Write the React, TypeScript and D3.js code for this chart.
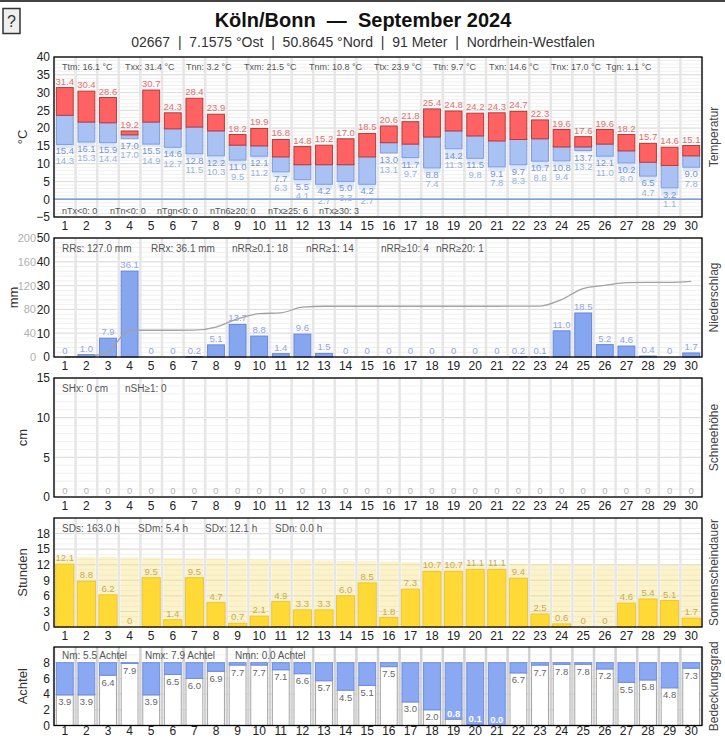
import React, { useEffect, useRef } from 'react';
import * as d3 from 'd3';

const days = [1, 2, 3, 4, 5, 6, 7, 8, 9, 10, 11, 12, 13, 14, 15, 16, 17, 18, 19, 20, 21, 22, 23, 24, 25, 26, 27, 28, 29, 30];

// temperature (°C)
const tMax = [31.4, 30.4, 28.6, 19.2, 30.7, 24.3, 28.4, 23.9, 18.2, 19.9, 16.8, 14.8, 15.2, 17.0, 18.5, 20.6, 21.8, 25.4, 24.8, 24.2, 24.3, 24.7, 22.3, 19.6, 17.6, 19.6, 18.2, 15.7, 14.6, 15.1];
const tMean = [23.6, 21.7, 21.5, 18.1, 21.7, 19.8, 20.3, 19.2, 15.2, 15.0, 11.9, 9.7, 9.7, 9.7, 11.9, 15.9, 15.5, 17.5, 19.2, 17.8, 16.4, 16.8, 17.0, 14.7, 14.7, 15.5, 13.6, 10.4, 9.5, 12.2];
const tMin = [15.4, 16.1, 15.9, 17.0, 15.5, 14.6, 12.8, 12.2, 11.0, 12.1, 7.7, 5.5, 4.2, 5.0, 4.2, 13.0, 11.7, 8.8, 14.2, 11.5, 9.1, 9.7, 10.7, 10.8, 13.7, 12.1, 10.2, 6.5, 3.2, 9.0];
const tGround = [14.3, 15.3, 14.4, 17.0, 14.9, 12.7, 11.5, 10.3, 9.5, 11.2, 6.3, 4.1, 2.7, 3.3, 2.7, 13.1, 9.7, 7.4, 11.3, 9.8, 7.8, 8.3, 8.8, 9.4, 13.2, 11.0, 8.0, 4.7, 1.1, 7.8];

// precipitation (mm)
const precip = [0, 1.0, 7.9, 36.1, 0, 0, 0.2, 5.1, 13.7, 8.8, 1.4, 9.6, 1.5, 0, 0, 0, 0, 0, 0, 0, 0, 0.2, 0.1, 11.0, 18.5, 5.2, 4.6, 0.4, 0, 1.7];

// snow depth (cm)
const snow = [0, 0, 0, 0, 0, 0, 0, 0, 0, 0, 0, 0, 0, 0, 0, 0, 0, 0, 0, 0, 0, 0, 0, 0, 0, 0, 0, 0, 0, 0];

// sunshine (h) and possible sunshine
const sunshine = [12.1, 8.8, 6.2, 0, 9.5, 1.4, 9.5, 4.7, 0.7, 2.1, 4.9, 3.3, 3.3, 6.0, 8.5, 1.8, 7.3, 10.7, 10.7, 11.1, 11.1, 9.4, 2.5, 0.6, 0, 0, 4.6, 5.4, 5.1, 1.7];
const sunPossible = [13.6, 13.5, 13.5, 13.4, 13.4, 13.3, 13.2, 13.2, 13.0, 13.0, 12.9, 12.9, 12.8, 12.7, 12.7, 12.6, 12.5, 12.4, 12.3, 12.3, 12.2, 12.2, 12.1, 12.1, 12.1, 12.0, 12.0, 12.0, 12.0, 12.0];

// cloud cover (eighths)
const cloud = [3.9, 3.9, 6.4, 7.9, 3.9, 6.5, 6.0, 6.9, 7.7, 7.7, 7.1, 6.6, 5.7, 4.5, 5.1, 7.5, 3.0, 2.0, 0.8, 0.1, 0.0, 6.7, 7.7, 7.8, 7.8, 7.2, 5.5, 5.8, 4.8, 7.3];

const tempStatsTop = ['Ttm: 16.1 °C', 'Txx: 31.4 °C', 'Tnn: 3.2 °C', 'Txm: 21.5 °C', 'Tnm: 10.8 °C', 'Ttx: 23.9 °C', 'Ttn: 9.7 °C', 'Txn: 14.6 °C', 'Tnx: 17.0 °C', 'Tgn: 1.1 °C'];
const tempStatsBottom = ['nTx<0: 0', 'nTn<0: 0', 'nTgn<0: 0', 'nTn6≥20: 0', 'nTx≥25: 6', 'nTx≥30: 3'];
const precipStats = ['RRs: 127.0 mm', 'RRx: 36.1 mm', 'nRR≥0.1: 18', 'nRR≥1: 14', 'nRR≥10: 4', 'nRR≥20: 1'];
const snowStats = ['SHx: 0 cm', 'nSH≥1: 0'];
const sunStats = ['SDs: 163.0 h', 'SDm: 5.4 h', 'SDx: 12.1 h', 'SDn: 0.0 h'];
const cloudStats = ['Nm: 5.5 Achtel', 'Nmx: 7.9 Achtel', 'Nmn: 0.0 Achtel'];

const W = 725;
const H = 739;
const L = 54;
const R = 702;
const FONT = '"Liberation Sans", Arial, Helvetica, sans-serif';
const fmt = (v: number) => (v === 0 ? '0' : v.toFixed(1));

export default function App() {
  const ref = useRef<SVGSVGElement>(null);

  useEffect(() => {
    document.body.style.margin = '0';
    const svg = d3.select(ref.current);
    svg.selectAll('*').remove();
    svg.style('font-family', FONT);

    const x = d3.scaleBand<number>().domain(days).range([L, R]).paddingInner(0.22).paddingOuter(0.11);
    const cx = (d: number) => (x(d) as number) + x.bandwidth() / 2;
    const bounds = d3.range(0, days.length + 1).map(i => L + i * x.step());

    // header
    svg.append('rect').attr('x', 0).attr('y', 0).attr('width', W).attr('height', 2).attr('fill', '#444');
    svg.append('rect').attr('x', 3).attr('y', 8.5).attr('width', 17).attr('height', 25)
      .attr('fill', '#efefef').attr('stroke', '#333').attr('stroke-width', 1.5);
    svg.append('text').attr('x', 11.5).attr('y', 27).attr('text-anchor', 'middle')
      .attr('font-size', 16).attr('fill', '#333').text('?');
    svg.append('text').attr('x', 363).attr('y', 27).attr('text-anchor', 'middle')
      .attr('font-size', 20).attr('font-weight', 'bold').attr('fill', '#111')
      .text('Köln/Bonn\u00a0\u00a0—\u00a0\u00a0September 2024');
    svg.append('text').attr('x', 363).attr('y', 47).attr('text-anchor', 'middle')
      .attr('font-size', 14).attr('fill', '#333')
      .text('02667\u00a0\u00a0|\u00a0\u00a07.1575 °Ost\u00a0\u00a0|\u00a0\u00a050.8645 °Nord\u00a0\u00a0|\u00a0\u00a091 Meter\u00a0\u00a0|\u00a0\u00a0Nordrhein-Westfalen');

    const panel = (top: number, bottom: number, domain: [number, number], major: number[], minor: number,
      leftTitle: string, rightTitle: string, leftTitleX = 22, vertColor = '#e6e6e6', dayPad = 4.5) => {
      const y = d3.scaleLinear().domain(domain).range([bottom, top]);
      const g = svg.append('g');
      const grid = g.append('g');
      grid.selectAll('line.minor').data(d3.range(domain[0], domain[1] + 1e-6, minor)).join('line')
        .attr('x1', L).attr('x2', R).attr('y1', d => y(d)).attr('y2', d => y(d))
        .attr('stroke', '#f0f0f0').attr('stroke-width', 1);
      grid.selectAll('line.major').data(major).join('line')
        .attr('x1', L).attr('x2', R).attr('y1', d => y(d)).attr('y2', d => y(d))
        .attr('stroke', '#dcdcdc').attr('stroke-width', 1);
      grid.selectAll('line.vert').data(bounds).join('line')
        .attr('x1', d => d).attr('x2', d => d).attr('y1', top).attr('y2', bottom)
        .attr('stroke', vertColor).attr('stroke-width', 2.5);
      const marks = g.append('g');
      const over = g.append('g');

      const ya = g.append('g').attr('transform', `translate(${L},0)`)
        .call(d3.axisLeft(y).tickValues(major).tickSize(0).tickPadding(4).tickFormat(d3.format('d')));
      ya.select('.domain').remove();
      ya.selectAll('text').attr('font-size', 12).attr('fill', '#222').attr('font-family', FONT);

      const xa = g.append('g').attr('transform', `translate(0,${bottom})`)
        .call(d3.axisBottom(x).tickSize(0).tickPadding(dayPad));
      xa.select('.domain').remove();
      xa.selectAll('text').attr('font-size', 12).attr('fill', '#222').attr('font-family', FONT);

      const mid = (top + bottom) / 2;
      g.append('text').attr('transform', `translate(${leftTitleX},${mid}) rotate(-90)`)
        .attr('text-anchor', 'middle').attr('dy', '0.35em').attr('font-size', 13).attr('fill', '#333').text(leftTitle);
      g.append('text').attr('transform', `translate(714,${mid}) rotate(-90)`)
        .attr('text-anchor', 'middle').attr('dy', '0.35em').attr('font-size', 12).attr('fill', '#444').text(rightTitle);

      const finish = () => {
        over.append('rect').attr('x', L).attr('y', top).attr('width', R - L).attr('height', bottom - top)
          .attr('fill', 'none').attr('stroke', '#000').attr('stroke-width', 1.3);
      };
      return { y, marks, over, finish };
    };

    const stats = (g: any, items: string[], xs: number[], yBase: number, size: number) => {
      g.selectAll(null).data(items).join('text')
        .attr('x', (_: string, i: number) => xs[i]).attr('y', yBase)
        .attr('font-size', size).attr('fill', '#555').text((d: string) => d);
    };

    // ---------- temperature ----------
    {
      const p = panel(57, 217, [-5, 40], [-5, 0, 5, 10, 15, 20, 25, 30, 35, 40], 1, '°C', 'Temperatur');
      const bw = x.bandwidth();
      p.marks.selectAll('rect.g').data(days.filter((_, i) => tGround[i] < tMin[i])).join('rect')
        .attr('x', d => x(d) as number).attr('width', bw)
        .attr('y', d => p.y(tMin[d - 1])).attr('height', d => p.y(tGround[d - 1]) - p.y(tMin[d - 1]))
        .attr('fill', '#dce6fa');
      p.marks.selectAll('rect.b').data(days).join('rect')
        .attr('x', d => x(d) as number).attr('width', bw)
        .attr('y', d => p.y(tMean[d - 1])).attr('height', d => p.y(tMin[d - 1]) - p.y(tMean[d - 1]))
        .attr('fill', '#a9c1f3').attr('stroke', '#7f9de0').attr('stroke-width', 1);
      p.marks.selectAll('rect.r').data(days).join('rect')
        .attr('x', d => x(d) as number).attr('width', bw)
        .attr('y', d => p.y(tMax[d - 1])).attr('height', d => p.y(tMean[d - 1]) - p.y(tMax[d - 1]))
        .attr('fill', '#ff6262').attr('stroke', '#b83a3a').attr('stroke-width', 1);
      p.marks.append('line').attr('x1', L).attr('x2', R).attr('y1', p.y(0)).attr('y2', p.y(0))
        .attr('stroke', '#5f8ad8').attr('stroke-width', 1.2);
      const lab = p.marks.append('g').attr('font-size', 9.5).attr('text-anchor', 'middle');
      lab.selectAll('text.x').data(days).join('text').attr('x', cx).attr('y', d => p.y(tMax[d - 1]) - 3)
        .attr('fill', '#de7070').text(d => fmt(tMax[d - 1]));
      lab.selectAll('text.n').data(days).join('text').attr('x', cx).attr('y', d => p.y(tMin[d - 1]) + 10)
        .attr('fill', '#7594d6').text(d => fmt(tMin[d - 1]));
      lab.selectAll('text.gr').data(days).join('text').attr('x', cx).attr('y', d => p.y(tMin[d - 1]) + 19.5)
        .attr('fill', '#99b3dc').text(d => fmt(tGround[d - 1]));
      stats(p.over, tempStatsTop, [62, 125, 186, 244, 309, 374, 433, 489, 551, 606], 70, 9);
      stats(p.over, tempStatsBottom, [62, 110, 157, 210, 268, 319], 214, 9);
      p.finish();
    }

    // ---------- precipitation ----------
    {
      const p = panel(238, 357, [0, 50], [0, 10, 20, 30, 40, 50], 2, 'mm', 'Niederschlag', 13);
      const y2 = d3.scaleLinear().domain([0, 200]).range([357, 238]);
      const a2 = svg.append('g').attr('transform', `translate(39,0)`)
        .call(d3.axisLeft(y2).tickValues([0, 40, 80, 120, 160, 200]).tickSize(0).tickPadding(3));
      a2.select('.domain').remove();
      a2.selectAll('text').attr('font-size', 11).attr('fill', '#b0b0b0').attr('font-family', FONT);

      p.marks.selectAll('rect').data(days.filter((_, i) => precip[i] > 0)).join('rect')
        .attr('x', d => x(d) as number).attr('width', x.bandwidth())
        .attr('y', d => p.y(precip[d - 1])).attr('height', d => p.y(0) - p.y(precip[d - 1]))
        .attr('fill', '#87a6f0').attr('stroke', '#6686dc').attr('stroke-width', 1);
      const cum = Array.from(d3.cumsum(precip));
      const line = d3.line<number>().x(d => cx(d)).y(d => y2(cum[d - 1])).curve(d3.curveMonotoneX);
      p.marks.append('path').datum(days).attr('d', line).attr('fill', 'none')
        .attr('stroke', '#a2a2a2').attr('stroke-width', 1.3);
      p.marks.append('g').attr('font-size', 9.5).attr('text-anchor', 'middle').attr('fill', '#91a4e6')
        .selectAll('text').data(days).join('text')
        .attr('x', cx).attr('y', d => p.y(precip[d - 1]) - 3).text(d => fmt(precip[d - 1]));
      stats(p.over, precipStats, [62, 151, 232, 306, 381, 436], 251.5, 10);
      p.finish();
    }

    // ---------- snow ----------
    {
      const p = panel(378, 497, [0, 15], [0, 5, 10, 15], 1, 'cm', 'Schneehöhe');
      p.marks.selectAll('rect').data(days.filter((_, i) => snow[i] > 0)).join('rect')
        .attr('x', d => x(d) as number).attr('width', x.bandwidth())
        .attr('y', d => p.y(snow[d - 1])).attr('height', d => p.y(0) - p.y(snow[d - 1]))
        .attr('fill', '#ccc');
      p.marks.append('g').attr('font-size', 9.5).attr('text-anchor', 'middle').attr('fill', '#b5b5b5')
        .selectAll('text').data(days).join('text')
        .attr('x', cx).attr('y', d => p.y(snow[d - 1]) - 3).text(d => fmt(snow[d - 1]));
      stats(p.over, snowStats, [62, 125], 391.5, 10);
      p.finish();
    }

    // ---------- sunshine ----------
    {
      const p = panel(518, 627, [0, 21], [0, 3, 6, 9, 12, 15, 18], 1, 'Stunden', 'Sonnenscheindauer');
      const sx = d3.scaleBand<number>().domain(days).range([L, R]).paddingInner(0.16).paddingOuter(0.08);
      p.marks.selectAll('rect.bg').data(days).join('rect')
        .attr('x', d => sx(d) as number).attr('width', sx.bandwidth())
        .attr('y', d => p.y(sunPossible[d - 1])).attr('height', d => p.y(0) - p.y(sunPossible[d - 1]))
        .attr('fill', '#fbe07a').attr('fill-opacity', 0.4);
      p.marks.selectAll('rect.s').data(days.filter((_, i) => sunshine[i] > 0)).join('rect')
        .attr('x', d => sx(d) as number).attr('width', sx.bandwidth())
        .attr('y', d => p.y(sunshine[d - 1])).attr('height', d => p.y(0) - p.y(sunshine[d - 1]))
        .attr('fill', '#ffda36').attr('stroke', '#efc62c').attr('stroke-width', 1);
      p.marks.append('g').attr('font-size', 9.5).attr('text-anchor', 'middle').attr('fill', '#c6ab58')
        .selectAll('text').data(days).join('text')
        .attr('x', cx).attr('y', d => p.y(sunshine[d - 1]) - 3).text(d => fmt(sunshine[d - 1]));
      stats(p.over, sunStats, [62, 138, 205, 275], 531.5, 10);
      p.finish();
    }

    // ---------- cloud cover ----------
    {
      const p = panel(647, 725.5, [0, 10], [0, 2, 4, 6, 8], 1, 'Achtel', 'Bedeckungsgrad', 22, '#d2d2d2', 0.5);
      p.marks.selectAll('rect.w').data(days).join('rect')
        .attr('x', d => x(d) as number).attr('width', x.bandwidth())
        .attr('y', d => p.y(cloud[d - 1])).attr('height', d => p.y(0) - p.y(cloud[d - 1]))
        .attr('fill', '#fff').attr('stroke', '#a5a5a5').attr('stroke-width', 1);
      p.marks.selectAll('rect.c').data(days).join('rect')
        .attr('x', d => x(d) as number).attr('width', x.bandwidth())
        .attr('y', p.y(8)).attr('height', d => p.y(cloud[d - 1]) - p.y(8))
        .attr('fill', '#8aa9f2').attr('stroke', '#6e8ee2').attr('stroke-width', 1);
      p.marks.append('g').attr('font-size', 9.5).attr('text-anchor', 'middle')
        .selectAll('text').data(days).join('text')
        .attr('x', cx)
        .attr('y', d => (cloud[d - 1] < 1 ? p.y(cloud[d - 1]) - 2.5 : p.y(cloud[d - 1]) + 10.5))
        .attr('fill', d => (cloud[d - 1] < 1 ? '#fff' : '#666'))
        .attr('font-weight', d => (cloud[d - 1] < 1 ? 'bold' : 'normal'))
        .text(d => cloud[d - 1].toFixed(1));
      stats(p.over, cloudStats, [62, 145, 235], 659, 10);
      p.finish();
    }
  }, []);

  return <svg ref={ref} width={W} height={H} style={{ display: 'block', background: '#fff' }} />;
}
